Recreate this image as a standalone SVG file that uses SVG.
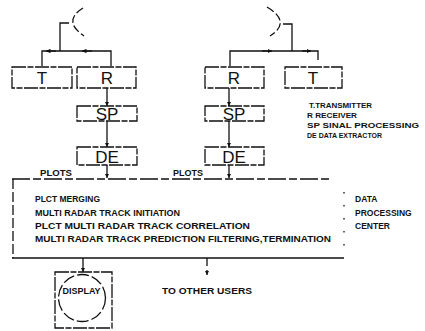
<svg xmlns="http://www.w3.org/2000/svg" width="425" height="331" viewBox="0 0 425 331">
<defs>
<style>
.ln{fill:none;stroke:#111;stroke-width:1.3}
.bx{fill:none;stroke:#111;stroke-width:1.3;stroke-dasharray:14 1.5 6 1.5}
.big{font-family:"Liberation Sans",Arial,sans-serif;font-size:17px;fill:#111;text-anchor:middle}
.sm{font-family:"Liberation Sans",Arial,sans-serif;font-size:8.5px;font-weight:bold;fill:#111}
.lg{font-family:"Liberation Sans",Arial,sans-serif;font-size:7.5px;font-weight:bold;fill:#111}
</style>
<marker id="ah" viewBox="0 0 6 6" refX="6" refY="3" markerUnits="userSpaceOnUse" markerWidth="4.5" markerHeight="4.5" orient="auto">
<path d="M0,0 L6,3 L0,6 z" fill="#111"/>
</marker>
</defs>
<rect width="425" height="331" fill="#fff"/>

<g id="connectors">
<!-- left antenna feed -->
<path class="ln" d="M83,8 Q62,21 84,36" stroke-dasharray="8 3"/>
<path class="ln" d="M69,23 L60,23 L60,51"/>
<path class="ln" d="M42,66 L42,51 L111,51 L111,66"/>
<path class="ln" d="M56,51 L46,51" marker-end="url(#ah)"/>
<path class="ln" d="M92,51 L82,51" marker-end="url(#ah)"/>
<!-- right antenna feed -->
<path class="ln" d="M267,7 Q292,22 270,36" stroke-dasharray="8 3"/>
<path class="ln" d="M283,24 L292,24 L292,51"/>
<path class="ln" d="M230,66 L230,51 L318,51 L318,60"/>
<path class="ln" d="M262,51 L272,51" marker-end="url(#ah)"/>
<path class="ln" d="M302,51 L311,51" marker-end="url(#ah)"/>
<!-- left chain -->
<path class="ln" d="M107,88 L107,106" marker-end="url(#ah)"/>
<path class="ln" d="M107,121 L107,147" marker-end="url(#ah)"/>
<path class="ln" d="M107,165 L107,178" marker-end="url(#ah)"/>
<!-- right chain -->
<path class="ln" d="M229,88 L229,106" marker-end="url(#ah)"/>
<path class="ln" d="M229,121 L229,147" marker-end="url(#ah)"/>
<path class="ln" d="M229,165 L229,178" marker-end="url(#ah)"/>
<!-- bottom outputs -->
<path class="ln" d="M83,258 L83,272" marker-end="url(#ah)"/>
<path class="ln" d="M207,258 L207,275" stroke-dasharray="8 4" marker-end="url(#ah)"/>
</g>

<g id="T-left"><rect class="bx" x="12" y="67" width="60" height="21"/><text class="big" x="42" y="84">T</text></g>
<g id="R-left"><rect class="bx" x="77" y="67" width="59" height="21"/><text class="big" x="107" y="84">R</text></g>
<g id="SP-left"><rect class="bx" x="77" y="106" width="60" height="15"/><text class="big" x="107" y="120">SP</text></g>
<g id="DE-left"><rect class="bx" x="77" y="147" width="60" height="18"/><text class="big" x="107" y="163">DE</text></g>

<g id="R-right"><rect class="bx" x="205" y="67" width="59" height="21"/><text class="big" x="234" y="84">R</text></g>
<g id="T-right"><rect class="bx" x="285" y="67" width="57" height="21"/><text class="big" x="313" y="84">T</text></g>
<g id="SP-right"><rect class="bx" x="205" y="106" width="59" height="15"/><text class="big" x="234" y="120">SP</text></g>
<g id="DE-right"><rect class="bx" x="205" y="147" width="59" height="18"/><text class="big" x="234" y="163">DE</text></g>

<g id="legend">
<text class="lg" x="309" y="108" textLength="63" lengthAdjust="spacingAndGlyphs">T.TRANSMITTER</text>
<text class="lg" x="307" y="118" textLength="50" lengthAdjust="spacingAndGlyphs">R RECEIVER</text>
<text class="lg" x="307" y="128" textLength="112" lengthAdjust="spacingAndGlyphs">SP SINAL PROCESSING</text>
<text class="lg" x="307" y="137.5" textLength="75" lengthAdjust="spacingAndGlyphs">DE DATA EXTRACTOR</text>
</g>

<g id="plots-labels">
<text class="sm" x="40" y="176" textLength="32" lengthAdjust="spacingAndGlyphs">PLOTS</text>
<text class="sm" x="173" y="176" textLength="30" lengthAdjust="spacingAndGlyphs">PLOTS</text>
</g>

<g id="data-processing-center">
<path class="ln" d="M12,179 L330,179" stroke-dasharray="18 3 8 3"/>
<path class="ln" d="M12,258 L344,258" stroke-width="1.6"/>
<path class="ln" d="M13,179 L13,258" stroke-dasharray="10 3"/>
<path class="ln" d="M344,192 L344,250" stroke-dasharray="1.5 11.5"/>
<text class="sm" x="35" y="201.5" textLength="65" lengthAdjust="spacingAndGlyphs">PLCT MERGING</text>
<text class="sm" x="35" y="215.5" textLength="145" lengthAdjust="spacingAndGlyphs">MULTI RADAR TRACK INITIATION</text>
<text class="sm" x="35" y="228.5" textLength="215" lengthAdjust="spacingAndGlyphs">PLCT MULTI RADAR TRACK CORRELATION</text>
<text class="sm" x="35" y="241.5" textLength="296" lengthAdjust="spacingAndGlyphs">MULTI RADAR TRACK PREDICTION FILTERING,TERMINATION</text>
<text class="sm" x="355" y="201.5">DATA</text>
<text class="sm" x="355" y="215.5">PROCESSING</text>
<text class="sm" x="355" y="228.5">CENTER</text>
</g>

<g id="display">
<rect class="bx" x="55" y="272" width="57" height="56"/>
<circle class="ln" cx="82" cy="298" r="23.5" stroke-dasharray="12 3"/>
<text class="sm" x="81.5" y="293.5" text-anchor="middle" textLength="38" lengthAdjust="spacingAndGlyphs">DISPLAY</text>
</g>

<g id="other-users">
<text class="sm" x="162" y="293.5" textLength="90" lengthAdjust="spacingAndGlyphs">TO OTHER USERS</text>
</g>
</svg>
